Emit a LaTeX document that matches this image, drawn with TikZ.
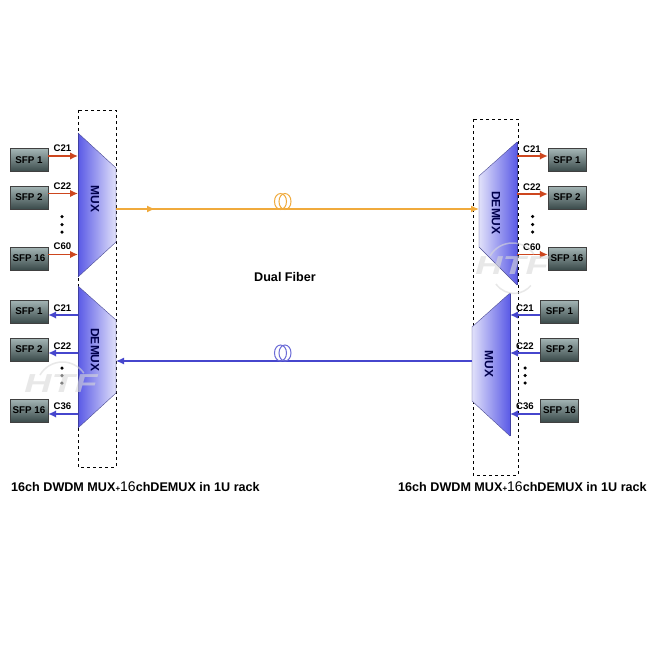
\documentclass[tikz,border=0pt]{standalone}
\usepackage{fontspec}
\setmainfont{Liberation Sans}
\usetikzlibrary{arrows.meta}
\definecolor{fiberorange}{RGB}{240,170,60}
\definecolor{fiberblue}{RGB}{70,70,205}
\definecolor{chanred}{RGB}{205,70,30}
\definecolor{muxdark}{RGB}{90,90,230}
\definecolor{muxpale}{RGB}{225,225,250}
\definecolor{sfptop}{RGB}{165,182,182}
\definecolor{sfpbottom}{RGB}{58,74,74}
\tikzset{
  sfpbox/.style={draw=black!75, top color=sfptop, bottom color=sfpbottom,
    minimum width=38pt, minimum height=23pt, inner sep=0pt, font=\bfseries\fontsize{9.8}{10}\selectfont},
  redarrow/.style={draw=chanred, line width=1.8pt, -{Latex[length=8pt,width=7.5pt]}},
  bluearrow/.style={draw=fiberblue, line width=1.8pt, -{Latex[length=8pt,width=7.5pt]}},
  chanlabel/.style={font=\bfseries\fontsize{9.6}{10}\selectfont, inner sep=0pt},
  muxlabel/.style={font=\bfseries\fontsize{12}{13}\selectfont, text=black!70!blue, rotate=-90, inner sep=0pt},
  rackbox/.style={draw=black, dashed, line width=0.8pt},
  dotmark/.style={circle, fill=black, inner sep=0pt, minimum size=3.5pt},
  captext/.style={font=\bfseries\fontsize{12.6}{14}\selectfont, inner sep=0pt, anchor=west},
  markfont/.style={font=\bfseries\itshape\fontsize{26}{27}\selectfont, text=black!15, inner sep=0pt, xscale=1.45}
}
\newcommand{\capline}{16ch DWDM MUX{\footnotesize+}{\mdseries\fontsize{14}{14}\selectfont 16}chDEMUX in 1U rack}
\begin{document}
\begin{tikzpicture}[x=1pt,y=-1pt]
  \useasboundingbox[fill=white] (0,0) rectangle (650,650);

  % Racks
  \draw[rackbox] (78,110) rectangle (116,467);
  \draw[rackbox] (473,119) rectangle (518,475);

  % Left MUX and DEMUX
  \shade[left color=muxdark, right color=muxpale] (78,133) -- (116,168) -- (116,242) -- (78,277) -- cycle;
  \draw[black!60!blue!70] (78,133) -- (116,168) -- (116,242) -- (78,277);
  \draw[muxdark!70!black, line width=1pt] (78,133) -- (78,277);
  \shade[left color=muxdark, right color=muxpale] (78,286) -- (116,320) -- (116,393) -- (78,428) -- cycle;
  \draw[black!60!blue!70] (78,286) -- (116,320) -- (116,393) -- (78,428);
  \draw[muxdark!70!black, line width=1pt] (78,286) -- (78,428);

  % Right DEMUX and MUX
  \shade[left color=muxpale, right color=muxdark] (517,142) -- (479,176) -- (479,247) -- (517,285) -- cycle;
  \draw[black!60!blue!70] (517,142) -- (479,176) -- (479,247) -- (517,285);
  \draw[muxdark!70!black, line width=1pt] (517,142) -- (517,285);
  \shade[left color=muxpale, right color=muxdark] (510,293) -- (472,327) -- (472,401) -- (510,436) -- cycle;
  \draw[black!60!blue!70] (510,293) -- (472,327) -- (472,401) -- (510,436);
  \draw[muxdark!70!black, line width=1pt] (510,293) -- (510,436);

  \node[muxlabel] (lmux) at (95,199) {MUX};
  \node[muxlabel] (ldemux) at (95,350) {DEMUX};
  \node[muxlabel] (rdemux) at (496,213) {DEMUX};
  \node[muxlabel] (rmux) at (489,364) {MUX};

  % SFP modules
  \node[sfpbox] (la1) at (29,160) {SFP 1};
  \node[sfpbox] (la2) at (29,197.5) {SFP 2};
  \node[sfpbox] (la3) at (29,258.5) {SFP 16};
  \node[sfpbox] (lb1) at (29,311.5) {SFP 1};
  \node[sfpbox] (lb2) at (29,349.5) {SFP 2};
  \node[sfpbox] (lb3) at (29,410.5) {SFP 16};
  \node[sfpbox] (ra1) at (567,160) {SFP 1};
  \node[sfpbox] (ra2) at (567,197.5) {SFP 2};
  \node[sfpbox] (ra3) at (567,258.5) {SFP 16};
  \node[sfpbox] (rb1) at (559.5,311.5) {SFP 1};
  \node[sfpbox] (rb2) at (559.5,349.5) {SFP 2};
  \node[sfpbox] (rb3) at (559.5,410.5) {SFP 16};

  % Ports on the trapezoids
  \coordinate (lap1) at (78,156);
  \coordinate (lap2) at (78,193.5);
  \coordinate (lap3) at (78,254.5);
  \coordinate (lbp1) at (78,315);
  \coordinate (lbp2) at (78,353);
  \coordinate (lbp3) at (78,414);
  \coordinate (rap1) at (517,156);
  \coordinate (rap2) at (517,194);
  \coordinate (rap3) at (517,254.5);
  \coordinate (rbp1) at (510,315);
  \coordinate (rbp2) at (510,353);
  \coordinate (rbp3) at (510,414);

  % Channel arrows
  \draw[redarrow] (la1.east |- lap1) -- (lap1);
  \draw[redarrow] (la2.east |- lap2) -- (lap2);
  \draw[redarrow] (la3.east |- lap3) -- (lap3);
  \draw[bluearrow] (lbp1) -- (lb1.east |- lbp1);
  \draw[bluearrow] (lbp2) -- (lb2.east |- lbp2);
  \draw[bluearrow] (lbp3) -- (lb3.east |- lbp3);
  \draw[redarrow] (rap1) -- (ra1.west |- rap1);
  \draw[redarrow] (rap2) -- (ra2.west |- rap2);
  \draw[redarrow] (rap3) -- (ra3.west |- rap3);
  \draw[bluearrow] (rb1.west |- rbp1) -- (rbp1);
  \draw[bluearrow] (rb2.west |- rbp2) -- (rbp2);
  \draw[bluearrow] (rb3.west |- rbp3) -- (rbp3);

  % Channel labels
  \node[chanlabel] (lc1) at (62.5,148.5) {C21};
  \node[chanlabel] (lc2) at (62.5,186.5) {C22};
  \node[chanlabel] (lc3) at (62.5,246.5) {C60};
  \node[chanlabel] (lc4) at (62.5,308) {C21};
  \node[chanlabel] (lc5) at (62.5,346) {C22};
  \node[chanlabel] (lc6) at (62.5,406) {C36};
  \node[chanlabel] (rc1) at (532,149) {C21};
  \node[chanlabel] (rc2) at (532,187) {C22};
  \node[chanlabel] (rc3) at (532,247) {C60};
  \node[chanlabel] (rc4) at (525,308) {C21};
  \node[chanlabel] (rc5) at (525,346) {C22};
  \node[chanlabel] (rc6) at (525,406) {C36};

  % Dots
  \foreach \dx/\dy in {62/216.5, 62/224.5, 62/232, 62/368, 62/375.5, 62/383,
                       532.5/216.5, 532.5/224.5, 532.5/232, 525/368, 525/375.5, 525/383}
    \node[dotmark] at (\dx,\dy) {};

  % Fibers
  \coordinate (orgstart) at (116,209);
  \coordinate (orgmid) at (155,209);
  \coordinate (orgend) at (479,209);
  \coordinate (bluestart) at (472,361);
  \coordinate (blueend) at (116,361);
  \draw[fiberorange, line width=1.2pt, -{Latex[length=8pt,width=7pt]}] (orgstart) -- (orgend);
  \draw[fiberorange, line width=1.2pt, -{Latex[length=8pt,width=7pt]}] (orgstart) -- (orgmid);
  \draw[fiberblue, line width=1.2pt, -{Latex[length=8pt,width=7pt]}] (bluestart) -- (blueend);

  % Fiber coils
  \draw[fiberorange, line width=1pt] (280.5,201.5) ellipse (6pt and 8pt);
  \draw[fiberorange, line width=1pt] (285,201.5) ellipse (6pt and 8pt);
  \draw[fiberblue!80, line width=1pt] (280.5,353) ellipse (6pt and 8pt);
  \draw[fiberblue!80, line width=1pt] (285,353) ellipse (6pt and 8pt);

  % Texts
  \node[font=\bfseries\fontsize{12.6}{14}\selectfont, inner sep=0pt] (fiberlabel) at (285,276.5) {Dual Fiber};
  \node[captext] (lcap) at (11,487) {\capline};
  \node[captext] (rcap) at (398,487) {\capline};

  % Watermarks
  \begin{scope}[opacity=0.6]
    \node[markfont] (lmark) at (61,384) {HTF};
    \node[markfont] (rmark) at (512,266) {HTF};
    \draw[black!15, line width=1.5pt] (40,375) arc[start angle=150, end angle=35, radius=26pt];
    \draw[black!15, line width=1.5pt] (490,256) arc[start angle=150, end angle=35, radius=26pt];
    \draw[black!15, line width=1.5pt] (496,284) arc[start angle=215, end angle=320, radius=22pt];
  \end{scope}
\end{tikzpicture}
\end{document}
